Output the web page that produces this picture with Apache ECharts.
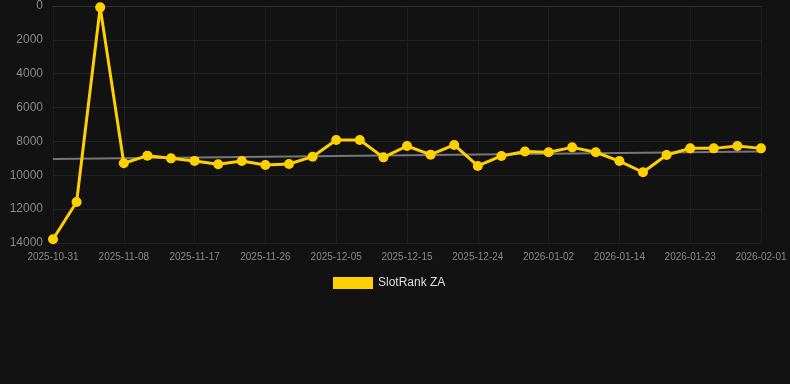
<!DOCTYPE html>
<html><head><meta charset="utf-8">
<script src="https://cdn.jsdelivr.net/npm/echarts@6/dist/echarts.min.js"></script>
<style>html,body{margin:0;padding:0;background:#121212;}#c{width:790px;height:384px;}</style>
</head><body><div id="c"></div>
<script>
const categories = ["2025-10-31","2025-11-03","2025-11-05","2025-11-08","2025-11-11","2025-11-14","2025-11-17","2025-11-20","2025-11-23","2025-11-26","2025-11-29","2025-12-02","2025-12-05","2025-12-08","2025-12-11","2025-12-15","2025-12-18","2025-12-21","2025-12-24","2025-12-27","2025-12-30","2026-01-02","2026-01-06","2026-01-10","2026-01-14","2026-01-17","2026-01-20","2026-01-23","2026-01-26","2026-01-29","2026-02-01"];
const rankValues = [13780,11580,80,9290,8840,9000,9150,9350,9160,9390,9330,8900,7920,7920,8940,8270,8780,8210,9450,8860,8600,8640,8350,8640,9160,9820,8800,8410,8410,8270,8410];
const trendStart = 9040;
const trendEnd = 8600;
const yTicks = [0,2000,4000,6000,8000,10000,12000,14000];

const chart = echarts.init(document.getElementById('c'));
chart.setOption({
  backgroundColor:'#121212',
  animation:false,
  textStyle:{fontFamily:'Liberation Sans, Arial, sans-serif'},
  grid:{left:53,right:29,top:6,bottom:141},
  legend:{
    data:['SlotRank ZA'],
    top:272,left:328,itemWidth:40,itemHeight:12,
    icon:'rect',
    textStyle:{color:'#ddd',fontSize:12}
  },
  xAxis:{
    type:'category',data:categories,boundaryGap:false,
    axisLine:{show:true,lineStyle:{color:'#333'}},
    axisTick:{show:false},
    axisLabel:{color:'#888',fontSize:10,interval:2,margin:9},
    splitLine:{show:true,interval:2,lineStyle:{color:'#1e1e1e'}}
  },
  yAxis:{
    type:'value',inverse:true,min:yTicks[0],max:yTicks[yTicks.length-1],interval:2000,
    axisLine:{show:false},axisTick:{show:false},
    axisLabel:{color:'#888',fontSize:12,margin:10,formatter:function(v){return String(v);}},
    splitLine:{lineStyle:{color:'#222'}}
  },
  series:[
    {name:'trend',type:'line',data:[[categories[0],trendStart],[categories[categories.length-1],trendEnd]],
     symbol:'none',lineStyle:{color:'#777',width:2},z:1,silent:true},
    {name:'SlotRank ZA',type:'line',data:rankValues,symbol:'circle',symbolSize:10,
     itemStyle:{color:'#FFD000'},lineStyle:{color:'#FFD000',width:3},z:3}
  ]
});
</script></body></html>
